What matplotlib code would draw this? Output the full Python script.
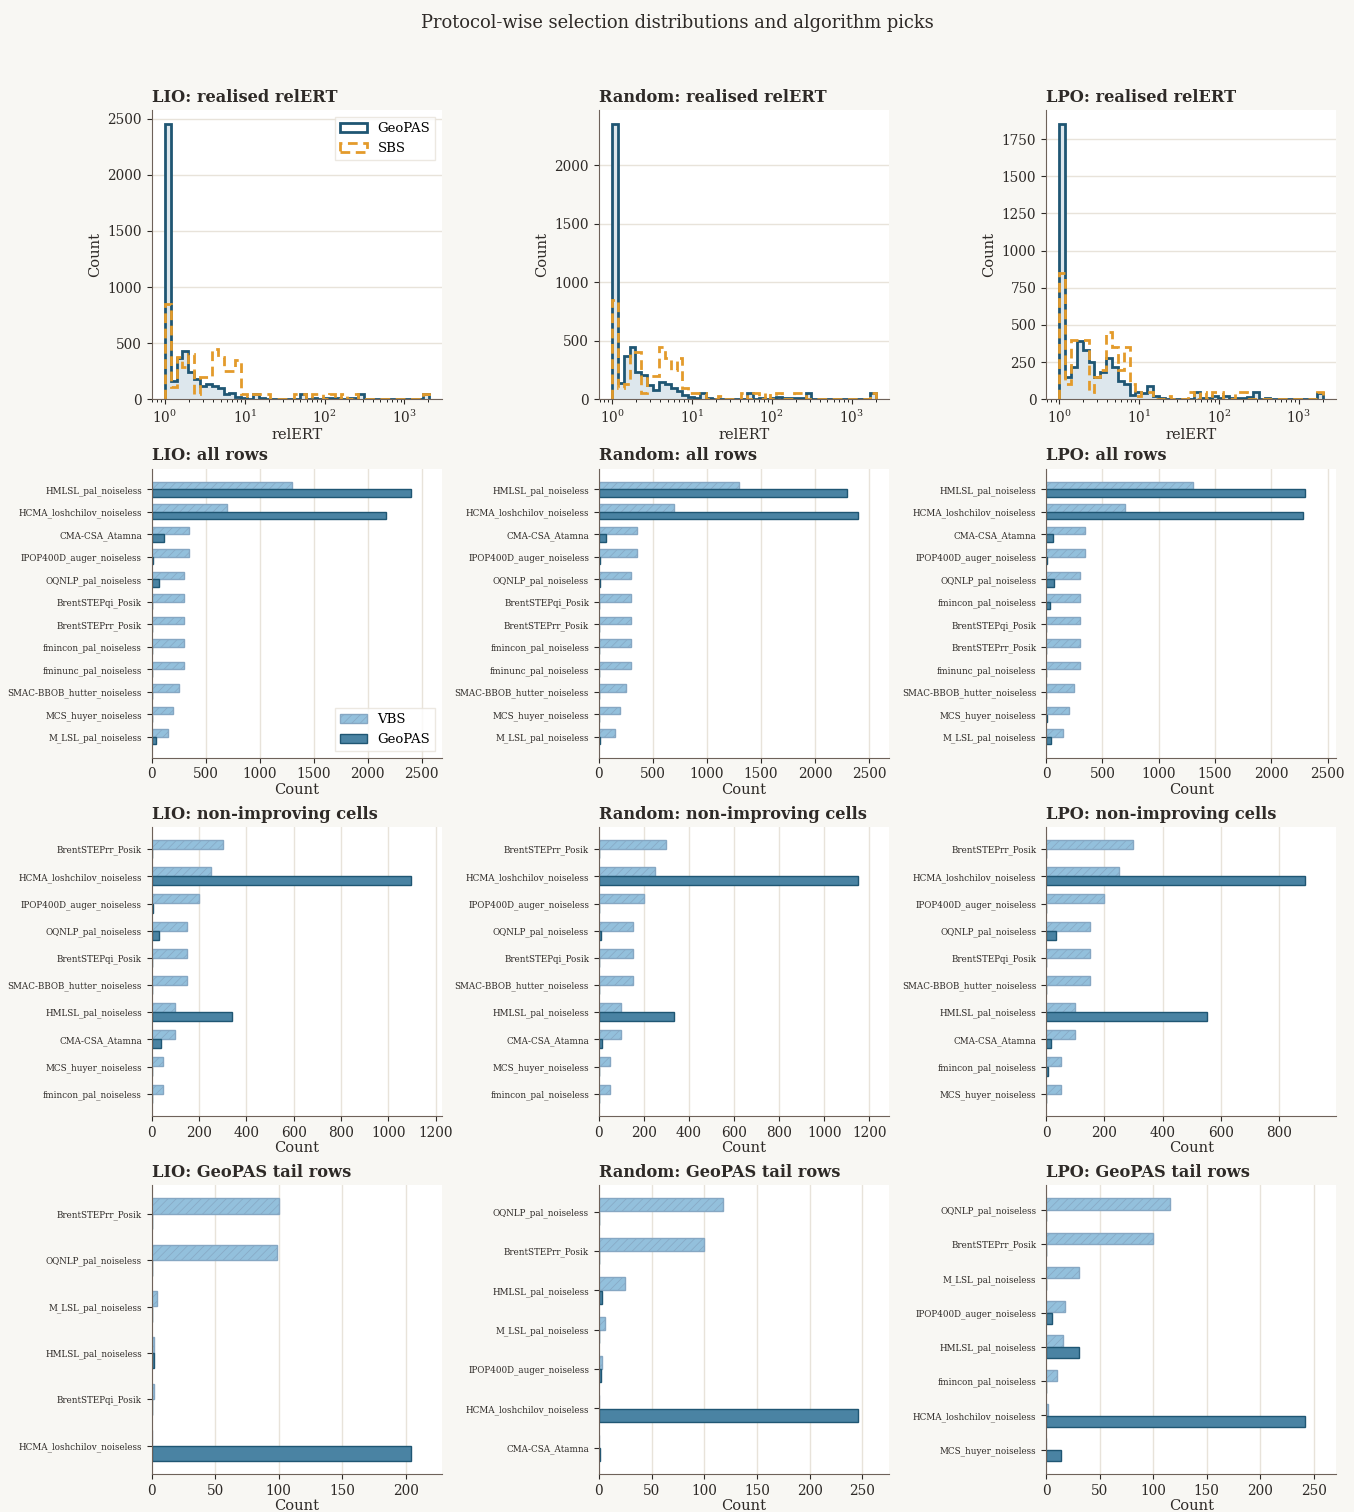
import matplotlib
matplotlib.use("Agg")
import matplotlib.pyplot as plt
import numpy as np

plt.rcParams['font.family'] = ['DejaVu Serif']
plt.rcParams['mathtext.fontset'] = 'dejavuserif'

protocols = ["LIO", "Random", "LPO"]

# relERT histogram counts (45 log-spaced bins from 1 to ~2000)
hist_edges = np.logspace(0, np.log10(2027), 46)
geopas_hist = {
    "LIO": [2450, 160, 370, 430, 240, 185, 120, 135, 120, 100, 50, 55, 20, 10, 0, 50, 10, 5, 0, 5,
            0, 0, 5, 50, 0, 10, 0, 10, 10, 10, 5, 10, 10, 50, 0, 0, 0, 0, 0, 0,
            0, 0, 0, 0, 50],
    "Random": [2350, 140, 370, 450, 230, 210, 120, 80, 145, 130, 100, 70, 40, 20, 10, 50, 10, 0, 5, 0,
               0, 5, 0, 50, 0, 10, 0, 10, 20, 10, 10, 15, 10, 50, 0, 0, 0, 0, 0, 0,
               0, 0, 0, 0, 50],
    "LPO": [1850, 150, 220, 390, 330, 250, 150, 185, 280, 220, 120, 100, 30, 50, 40, 90, 20, 10, 0, 0,
            0, 0, 0, 50, 10, 10, 20, 10, 20, 10, 10, 10, 15, 50, 0, 10, 0, 0, 0, 0,
            0, 0, 0, 0, 40],
}
sbs_hist = {
    "LIO": [850, 110, 380, 290, 400, 50, 200, 200, 450, 380, 250, 250, 350, 50, 30, 50, 50, 50, 0, 0,
            0, 0, 50, 50, 0, 50, 50, 0, 50, 0, 50, 0, 50, 0, 0, 0, 0, 0, 0, 0,
            0, 0, 0, 0, 50],
    "Random": [850, 100, 130, 400, 400, 50, 200, 200, 450, 350, 250, 350, 100, 50, 50, 50, 0, 0, 30, 0,
               0, 0, 50, 0, 50, 0, 50, 0, 50, 0, 0, 50, 50, 0, 0, 0, 0, 0, 0, 0,
               0, 0, 0, 0, 50],
    "LPO": [850, 100, 400, 400, 400, 50, 150, 200, 450, 350, 200, 350, 100, 20, 50, 50, 0, 0, 20, 0,
            0, 0, 50, 0, 50, 0, 50, 50, 0, 0, 50, 50, 0, 0, 0, 0, 0, 0, 0, 0,
            0, 0, 0, 0, 50],
}

# all rows
all_algos = {
    "LIO": ["HMLSL_pal_noiseless", "HCMA_loshchilov_noiseless", "CMA-CSA_Atamna", "IPOP400D_auger_noiseless",
            "OQNLP_pal_noiseless", "BrentSTEPqi_Posik", "BrentSTEPrr_Posik", "fmincon_pal_noiseless",
            "fminunc_pal_noiseless", "SMAC-BBOB_hutter_noiseless", "MCS_huyer_noiseless", "M_LSL_pal_noiseless"],
    "Random": ["HMLSL_pal_noiseless", "HCMA_loshchilov_noiseless", "CMA-CSA_Atamna", "IPOP400D_auger_noiseless",
               "OQNLP_pal_noiseless", "BrentSTEPqi_Posik", "BrentSTEPrr_Posik", "fmincon_pal_noiseless",
               "fminunc_pal_noiseless", "SMAC-BBOB_hutter_noiseless", "MCS_huyer_noiseless", "M_LSL_pal_noiseless"],
    "LPO": ["HMLSL_pal_noiseless", "HCMA_loshchilov_noiseless", "CMA-CSA_Atamna", "IPOP400D_auger_noiseless",
            "OQNLP_pal_noiseless", "fmincon_pal_noiseless", "BrentSTEPqi_Posik", "BrentSTEPrr_Posik",
            "fminunc_pal_noiseless", "SMAC-BBOB_hutter_noiseless", "MCS_huyer_noiseless", "M_LSL_pal_noiseless"],
}
all_vbs = {
    "LIO": [1300, 700, 350, 350, 300, 300, 300, 300, 300, 250, 200, 150],
    "Random": [1300, 700, 350, 350, 300, 300, 300, 300, 300, 250, 200, 150],
    "LPO": [1300, 700, 350, 350, 300, 300, 300, 300, 300, 250, 200, 150],
}
all_geo = {
    "LIO": [2400, 2170, 115, 15, 70, 3, 3, 3, 3, 3, 3, 40],
    "Random": [2300, 2400, 65, 8, 12, 2, 2, 2, 2, 2, 2, 12],
    "LPO": [2300, 2280, 60, 8, 70, 35, 0, 0, 0, 0, 12, 45],
}

# non-improving cells
nonimp_algos = {
    "LIO": ["BrentSTEPrr_Posik", "HCMA_loshchilov_noiseless", "IPOP400D_auger_noiseless", "OQNLP_pal_noiseless",
            "BrentSTEPqi_Posik", "SMAC-BBOB_hutter_noiseless", "HMLSL_pal_noiseless", "CMA-CSA_Atamna",
            "MCS_huyer_noiseless", "fmincon_pal_noiseless"],
    "Random": ["BrentSTEPrr_Posik", "HCMA_loshchilov_noiseless", "IPOP400D_auger_noiseless", "OQNLP_pal_noiseless",
               "BrentSTEPqi_Posik", "SMAC-BBOB_hutter_noiseless", "HMLSL_pal_noiseless", "CMA-CSA_Atamna",
               "MCS_huyer_noiseless", "fmincon_pal_noiseless"],
    "LPO": ["BrentSTEPrr_Posik", "HCMA_loshchilov_noiseless", "IPOP400D_auger_noiseless", "OQNLP_pal_noiseless",
            "BrentSTEPqi_Posik", "SMAC-BBOB_hutter_noiseless", "HMLSL_pal_noiseless", "CMA-CSA_Atamna",
            "fmincon_pal_noiseless", "MCS_huyer_noiseless"],
}
nonimp_vbs = {
    "LIO": [300, 250, 200, 150, 150, 150, 100, 100, 50, 50],
    "Random": [300, 250, 200, 150, 150, 150, 100, 100, 50, 50],
    "LPO": [300, 250, 200, 150, 150, 150, 100, 100, 50, 50],
}
nonimp_geo = {
    "LIO": [2, 1095, 5, 30, 2, 2, 340, 40, 2, 2],
    "Random": [2, 1150, 2, 8, 2, 2, 333, 15, 2, 2],
    "LPO": [0, 890, 0, 35, 0, 0, 553, 17, 8, 0],
}

# GeoPAS tail rows
tail_algos = {
    "LIO": ["BrentSTEPrr_Posik", "OQNLP_pal_noiseless", "M_LSL_pal_noiseless", "HMLSL_pal_noiseless",
            "BrentSTEPqi_Posik", "HCMA_loshchilov_noiseless"],
    "Random": ["OQNLP_pal_noiseless", "BrentSTEPrr_Posik", "HMLSL_pal_noiseless", "M_LSL_pal_noiseless",
               "IPOP400D_auger_noiseless", "HCMA_loshchilov_noiseless", "CMA-CSA_Atamna"],
    "LPO": ["OQNLP_pal_noiseless", "BrentSTEPrr_Posik", "M_LSL_pal_noiseless", "IPOP400D_auger_noiseless",
            "HMLSL_pal_noiseless", "fmincon_pal_noiseless", "HCMA_loshchilov_noiseless", "MCS_huyer_noiseless"],
}
tail_vbs = {
    "LIO": [100, 99, 4, 2, 1.5, 0],
    "Random": [118, 100, 25, 6, 3, 0, 0],
    "LPO": [116, 100, 31, 18, 16, 10, 2, 0],
}
tail_geo = {
    "LIO": [0, 0, 0, 2, 0, 204],
    "Random": [0, 0, 3, 0, 2, 246, 1],
    "LPO": [0, 0, 0, 6, 31, 0, 242, 14],
}

BG = "#f8f7f3"
TEXT = "#2e2a27"
SPINE = "#6e625a"
GRID = "#e8e3da"
GEO_DARK = "#1f5673"
GEO_BAR = "#4a83a3"
VBS_FACE = "#93c0dc"
VBS_EDGE = "#86a7c3"
SBS_COL = "#e39b2b"


def style_axes(ax, grid_axis):
    ax.set_facecolor("white")
    for s in ["top", "right"]:
        ax.spines[s].set_visible(False)
    for s in ["left", "bottom"]:
        ax.spines[s].set_color(SPINE)
    ax.grid(True, axis=grid_axis, color=GRID, linewidth=1)
    ax.set_axisbelow(True)
    ax.tick_params(colors=TEXT, labelcolor=TEXT, labelsize=9.8)


def draw_bars(ax, algos, vbs, geo, title, legend=False):
    style_axes(ax, "x")
    y = np.arange(len(algos))
    h = 0.33
    ax.barh(y - 0.17, vbs, height=h, color=VBS_FACE, edgecolor=VBS_EDGE, hatch="////",
            linewidth=1, label="VBS")
    ax.barh(y + 0.17, geo, height=h, color=GEO_BAR, edgecolor=GEO_DARK, linewidth=1, label="GeoPAS")
    ax.set_yticks(y)
    ax.set_yticklabels(algos)
    ax.tick_params(axis="y", labelsize=6.3)
    ax.invert_yaxis()
    ax.set_xlim(0, max(max(vbs), max(geo)) * 1.12)
    ax.set_xlabel("Count", fontsize=10.5, color=TEXT, labelpad=1)
    ax.set_title(title, loc="left", fontweight="bold", fontsize=11.7, color=TEXT)
    if legend:
        leg = ax.legend(loc="lower right", fontsize=9.5, frameon=True, fancybox=False)
        leg.get_frame().set_edgecolor(GRID)


plt.rcParams['hatch.linewidth'] = 0.5
fig, axes = plt.subplots(4, 3, figsize=(13.54, 15.12), dpi=100)
fig.patch.set_facecolor(BG)
fig.subplots_adjust(left=0.112, right=0.987, top=0.927, bottom=0.025, wspace=0.54, hspace=0.24)
fig.suptitle("Protocol-wise selection distributions and algorithm picks", fontsize=12.9,
             color=TEXT, y=0.991)

for j, p in enumerate(protocols):
    ax = axes[0, j]
    style_axes(ax, "y")
    ax.hist(hist_edges[:-1], bins=hist_edges, weights=geopas_hist[p], histtype="stepfilled",
            color="#dde7ed", linewidth=0)
    ax.hist(hist_edges[:-1], bins=hist_edges, weights=geopas_hist[p], histtype="step",
            color=GEO_DARK, linewidth=2, label="GeoPAS")
    ax.hist(hist_edges[:-1], bins=hist_edges, weights=sbs_hist[p], histtype="step",
            color=SBS_COL, linewidth=2, linestyle=(0, (3.5, 2)), label="SBS")
    ax.set_xscale("log")
    ax.set_xlabel("relERT", fontsize=10.5, color=TEXT, labelpad=1)
    ax.set_ylabel("Count", fontsize=10.5, color=TEXT)
    ax.set_title(f"{p}: realised relERT", loc="left", fontweight="bold", fontsize=11.7, color=TEXT)
    if j == 0:
        leg = ax.legend(loc="upper right", fontsize=9.5, frameon=True, fancybox=False)
        leg.get_frame().set_edgecolor(GRID)

    draw_bars(axes[1, j], all_algos[p], all_vbs[p], all_geo[p], f"{p}: all rows", legend=(j == 0))
    draw_bars(axes[2, j], nonimp_algos[p], nonimp_vbs[p], nonimp_geo[p], f"{p}: non-improving cells")
    draw_bars(axes[3, j], tail_algos[p], tail_vbs[p], tail_geo[p], f"{p}: GeoPAS tail rows")

fig.savefig("out.png", dpi=100, facecolor=BG)
